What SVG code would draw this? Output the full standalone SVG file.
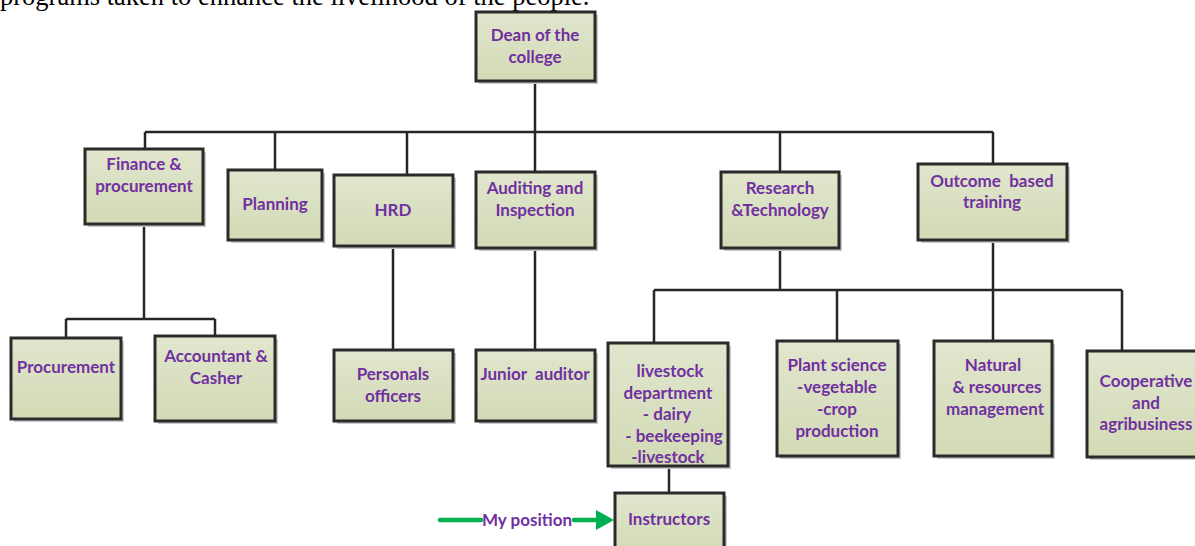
<svg xmlns="http://www.w3.org/2000/svg" width="1195" height="546" viewBox="0 0 1195 546">
<defs>
<linearGradient id="g" x1="0" y1="0" x2="0" y2="1">
<stop offset="0" stop-color="#e1e6cd"/>
<stop offset="1" stop-color="#d2dab5"/>
</linearGradient>
</defs>
<style>
.box{fill:url(#g);stroke:#2a2a2a;stroke-width:3}
.sh{fill:#c8c8c8}
.t{font-family:Lato,"Open Sans",sans-serif;font-weight:bold;font-size:17px;fill:#7030a0;text-anchor:middle}
.c{fill:none;stroke:#262626;stroke-width:2.5}
.top{font-family:"Liberation Serif",serif;font-size:26.5px;fill:#000}
</style>
<rect width="1195" height="546" fill="#fff"/>
<text class="top" x="0" y="5">programs taken to enhance the livelihood of the people.</text>
<g id="connectors">
<path class="c" d="M535,81 V132 M145,132 H993 M145,132 V149 M275,132 V170 M407,132 V175 M535,132 V172 M780,132 V172 M993,132 V164"/>
<path class="c" d="M144,224 V319 M66,319 H215 M66,319 V338 M215,319 V336"/>
<path class="c" d="M393,246 V350 M535,248 V350"/>
<path class="c" d="M780,248 V290 M654,290 H1122 M654,290 V343 M837,290 V341 M993,240 V341 M1122,290 V351"/>
<path class="c" d="M669,466 V493"/>
<path d="M440,520 H481 M574,520 H599" stroke="#00b050" stroke-width="4.5" stroke-linecap="round" fill="none"/>
<path d="M596,510 L614,520 L596,530 z" fill="#00b050"/>
<text class="t" x="527" y="526">My position</text>
</g>
<g id="dean"><rect class="sh" x="479" y="15" width="119" height="69"/><rect class="box" x="476" y="12" width="119" height="69"/><text class="t" x="535" y="41">Dean of the</text><text class="t" x="535" y="63">college</text></g>
<g id="finance"><rect class="sh" x="88" y="152" width="118" height="75"/><rect class="box" x="85" y="149" width="118" height="75"/><text class="t" x="144" y="170">Finance &amp;</text><text class="t" x="144" y="192">procurement</text></g>
<g id="planning"><rect class="sh" x="231" y="173" width="94" height="70"/><rect class="box" x="228" y="170" width="94" height="70"/><text class="t" x="275" y="210">Planning</text></g>
<g id="hrd"><rect class="sh" x="337" y="178" width="119" height="71"/><rect class="box" x="334" y="175" width="119" height="71"/><text class="t" x="393" y="216">HRD</text></g>
<g id="auditing"><rect class="sh" x="479" y="175" width="119" height="76"/><rect class="box" x="476" y="172" width="119" height="76"/><text class="t" x="535" y="194">Auditing and</text><text class="t" x="535" y="216">Inspection</text></g>
<g id="research"><rect class="sh" x="724" y="175" width="118" height="76"/><rect class="box" x="721" y="172" width="118" height="76"/><text class="t" x="780" y="194">Research</text><text class="t" x="780" y="216">&amp;Technology</text></g>
<g id="outcome"><rect class="sh" x="921" y="167" width="149" height="76"/><rect class="box" x="918" y="164" width="149" height="76"/><text class="t" x="992" y="187" xml:space="preserve">Outcome  based</text><text class="t" x="992" y="208">training</text></g>
<g id="procurement"><rect class="sh" x="14" y="341" width="110" height="81"/><rect class="box" x="11" y="338" width="110" height="81"/><text class="t" x="66" y="373">Procurement</text></g>
<g id="accountant"><rect class="sh" x="158" y="339" width="120" height="85"/><rect class="box" x="155" y="336" width="120" height="85"/><text class="t" x="216" y="362">Accountant &amp;</text><text class="t" x="216" y="384">Casher</text></g>
<g id="personals"><rect class="sh" x="337" y="353" width="119" height="71"/><rect class="box" x="334" y="350" width="119" height="71"/><text class="t" x="393" y="380">Personals</text><text class="t" x="393" y="402">officers</text></g>
<g id="junior"><rect class="sh" x="479" y="353" width="119" height="71"/><rect class="box" x="476" y="350" width="119" height="71"/><text class="t" x="535" y="380" xml:space="preserve">Junior  auditor</text></g>
<g id="livestock"><rect class="sh" x="611" y="346" width="120" height="123"/><rect class="box" x="608" y="343" width="120" height="123"/><text class="t" x="670" y="377">livestock</text><text class="t" x="668" y="399">department</text><text class="t" x="667" y="420">- dairy</text><text class="t" x="674" y="442">- beekeeping</text><text class="t" x="668" y="463">-livestock</text></g>
<g id="plant"><rect class="sh" x="780" y="344" width="121" height="115"/><rect class="box" x="777" y="341" width="121" height="115"/><text class="t" x="837" y="371">Plant science</text><text class="t" x="837" y="393">-vegetable</text><text class="t" x="837" y="415">-crop</text><text class="t" x="837" y="437">production</text></g>
<g id="natural"><rect class="sh" x="937" y="344" width="118" height="115"/><rect class="box" x="934" y="341" width="118" height="115"/><text class="t" x="993" y="371">Natural</text><text class="t" x="997" y="393">&amp; resources</text><text class="t" x="995" y="415">management</text></g>
<g id="cooperative"><rect class="sh" x="1090" y="354" width="120" height="106"/><rect class="box" x="1087" y="351" width="120" height="106"/><text class="t" x="1146" y="387">Cooperative</text><text class="t" x="1146" y="409">and</text><text class="t" x="1146" y="430">agribusiness</text></g>
<g id="instructors"><rect class="sh" x="618" y="496" width="109" height="60"/><rect class="box" x="615" y="493" width="109" height="60"/><text class="t" x="669" y="525">Instructors</text></g>
</svg>
